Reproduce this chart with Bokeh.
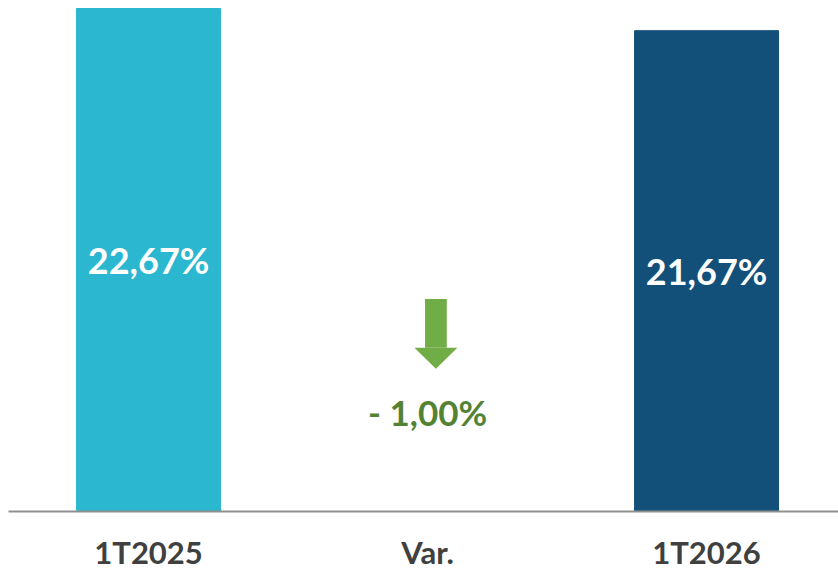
from bokeh.plotting import figure
from bokeh.models import ColumnDataSource, Range1d, FixedTicker
from bokeh.core.properties import value
from bokeh.embed import file_html
from bokeh.resources import INLINE

categories = ["1T2025", "Var.", "1T2026"]
bar_categories = ["1T2025", "1T2026"]
bar_values = [22.67, 21.67]
bar_labels = ["22,67%", "21,67%"]
variation = -1.00
variation_label = "- 1,00%"

FONT = "Lato"
bar_colors = ["#2AB7CF", "#12507A"]
xpos = {c: i for i, c in enumerate(categories)}

p = figure(width=838, height=573, output_backend="svg", toolbar_location=None,
           x_range=Range1d(-0.502, 2.473), y_range=Range1d(0, 23.03),
           min_border_left=8, min_border_right=0, min_border_top=0, min_border_bottom=61)
p.outline_line_color = None
p.grid.visible = False
p.yaxis.visible = False
p.background_fill_color = "white"
p.border_fill_color = "white"

bx = [xpos[c] for c in bar_categories]
src = ColumnDataSource(dict(x=bx, top=bar_values, color=bar_colors,
                            mid=[v / 2 for v in bar_values], label=bar_labels))
p.vbar(x="x", top="top", bottom=0, width=0.516, color="color", source=src)
p.text(x="x", y="mid", text="label", source=src, text_color="white",
       text_font=value(FONT), text_font_style="bold", text_font_size="36px",
       text_align="center", text_baseline="middle")

# down arrow for the variation
vx = xpos["Var."]
ax_c = vx + 0.03
shaft_top, shaft_bot, tip = 9.58, 7.38, 6.43
p.quad(left=ax_c - 0.039, right=ax_c + 0.039, top=shaft_top, bottom=shaft_bot,
       color="#70AD47", line_color=None)
p.patch(x=[ax_c - 0.077, ax_c + 0.077, ax_c], y=[shaft_bot, shaft_bot, tip],
        color="#70AD47", line_color=None)
p.text(x=[vx], y=[4.5], text=[variation_label], text_color="#548235",
       text_font=value(FONT), text_font_style="bold", text_font_size="35px",
       text_align="center", text_baseline="middle")

ax = p.xaxis[0]
ax.ticker = FixedTicker(ticks=list(range(len(categories))))
ax.major_label_overrides = {i: c for i, c in enumerate(categories)}
ax.major_tick_line_color = None
ax.minor_tick_line_color = None
ax.axis_line_color = "#8F8F8F"
ax.axis_line_width = 2
ax.major_label_text_font = FONT
ax.major_label_text_font_style = "bold"
ax.major_label_text_font_size = "31px"
ax.major_label_text_color = "#404040"
ax.major_label_standoff = 15

open("out.html", "w").write(file_html(p, INLINE))
